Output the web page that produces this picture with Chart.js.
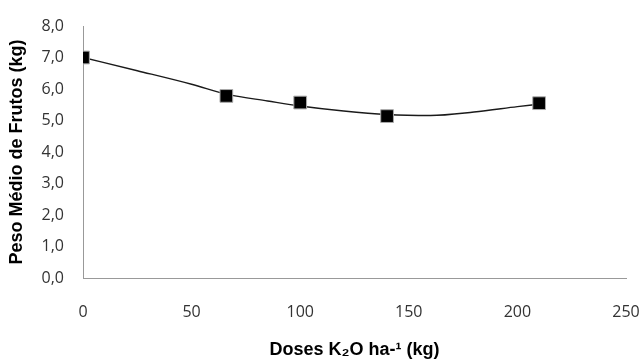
<!DOCTYPE html>
<html>
<head>
<meta charset="utf-8">
<script src="https://cdn.jsdelivr.net/npm/chart.js@4/dist/chart.umd.min.js"></script>
<style>
html,body{margin:0;padding:0;background:#fff;}
#wrap{width:642px;height:361px;position:relative;}
</style>
</head>
<body>
<div id="wrap"><canvas id="c" width="642" height="361"></canvas></div>
<script>
// observed data points
const doses = [0, 66, 100, 140, 210];
const weights = [7.0, 5.78, 5.57, 5.14, 5.55];
// trend curve
const trendX = [0, 25, 50, 67, 85, 100, 120, 140, 160, 180, 200, 210];
const trendY = [7.0, 6.58, 6.15, 5.82, 5.62, 5.46, 5.3, 5.19, 5.16, 5.27, 5.44, 5.52];
const yTickLabels = ['0,0','1,0','2,0','3,0','4,0','5,0','6,0','7,0','8,0'];
const xTickLabels = ['0','50','100','150','200','250'];

const ctx = document.getElementById('c');
new Chart(ctx, {
  type: 'scatter',
  data: {
    datasets: [
      {
        label: 'trend',
        data: trendX.map((x, i) => ({x: x, y: trendY[i]})),
        showLine: true,
        borderColor: '#1a1a1a',
        borderWidth: 1.4,
        pointRadius: 0,
        cubicInterpolationMode: 'monotone',
        fill: false,
        order: 2
      },
      {
        label: 'obs',
        data: doses.map((x, i) => ({x: x, y: weights[i]})),
        showLine: false,
        pointStyle: 'rect',
        pointRadius: 9,
        backgroundColor: '#000',
        borderColor: '#aaa',
        borderWidth: 1,
        order: 1
      }
    ]
  },
  options: {
    responsive: false,
    animation: false,
    layout: {padding: {left: 0, right: 0, top: 26, bottom: 0}},
    plugins: {legend: {display: false}, tooltip: {enabled: false}},
    scales: {
      x: {
        type: 'linear',
        min: 0, max: 250,
        grid: {display: true, drawOnChartArea: false, drawTicks: true, tickLength: 22, color: 'rgba(0,0,0,0)'},
        border: {display: true, color: '#999', width: 1},
        afterBuildTicks: (ax) => { ax.ticks = xTickLabels.map(v => ({value: Number(v)})); },
        afterFit: (ax) => { ax.height = 83; ax.paddingRight = 16; },
        ticks: {
          padding: 3,
          color: '#333',
          font: {family: 'Open Sans', size: 16},
          callback: (v, i) => xTickLabels[i]
        },
        title: {
          display: true,
          text: 'Doses K\u2082O ha-\u00B9 (kg)',
          color: '#000',
          font: {family: 'Liberation Sans', size: 18, weight: 'bold'},
          padding: {top: 0, bottom: 0}
        }
      },
      y: {
        min: 0, max: 8,
        grid: {display: true, drawOnChartArea: false, drawTicks: true, tickLength: 16, color: 'rgba(0,0,0,0)'},
        border: {display: true, color: '#999', width: 1},
        afterBuildTicks: (ax) => { ax.ticks = yTickLabels.map((v, i) => ({value: i})); },
        afterFit: (ax) => { ax.width = 83; },
        ticks: {
          padding: 3,
          color: '#333',
          font: {family: 'Open Sans', size: 16},
          callback: (v, i) => yTickLabels[i]
        },
        title: {
          display: true,
          text: 'Peso Médio de Frutos (kg)',
          color: '#000',
          font: {family: 'Liberation Sans', size: 18, weight: 'bold'},
          padding: {top: 6, bottom: 0}
        }
      }
    }
  }
});
</script>
</body>
</html>
